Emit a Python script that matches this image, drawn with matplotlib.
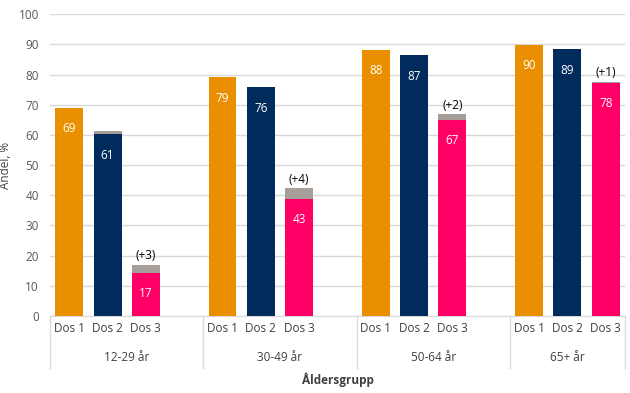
import numpy as np
import matplotlib.pyplot as plt
import matplotlib.transforms as mtransforms

plt.rcParams['font.family'] = ['Open Sans', 'DejaVu Sans']

groups = ['12-29 år', '30-49 år', '50-64 år', '65+ år']
doses = ['Dos 1', 'Dos 2', 'Dos 3']

dos1 = [69, 79.1, 88.1, 89.8]
dos2 = [60.2, 75.7, 86.3, 88.3]
dos2_extra = [1.1, 0, 0, 0]
dos3 = [14.3, 38.7, 64.9, 77.2]
dos3_extra = [2.6, 3.6, 1.9, 0.4]

lab1 = [69, 79, 88, 90]
lab2 = [61, 76, 87, 89]
lab3 = [17, 43, 67, 78]
added3 = ['(+3)', '(+4)', '(+2)', '(+1)']

c_orange = '#EA8F00'
c_navy = '#002B5C'
c_pink = '#FF0066'
c_grey = '#A59E99'

fig = plt.figure(figsize=(6.3, 3.93), dpi=100)
ax = fig.add_axes([0.0794, 0.196, 0.9126, 0.768])

gi = np.arange(len(groups))
w = 0.73
x1 = gi * 4
x2 = gi * 4 + 1
x3 = gi * 4 + 2

ax.bar(x1, dos1, w, color=c_orange, zorder=3)
ax.bar(x2, dos2, w, color=c_navy, zorder=3)
ax.bar(x2, dos2_extra, w, bottom=dos2, color=c_grey, zorder=3)
ax.bar(x3, dos3, w, color=c_pink, zorder=3)
ax.bar(x3, dos3_extra, w, bottom=dos3, color=c_grey, zorder=3)

# value labels inside the bars
for xs, tops, labs in [(x1, dos1, lab1), (x2, dos2, lab2), (x3, dos3, lab3)]:
    for x, t, l in zip(xs, tops, labs):
        ax.annotate(str(l), (x, t), xytext=(0, -15), textcoords='offset points',
                    ha='center', va='center', color='white', fontsize=8.5, zorder=4)

for x, t, e, a in zip(x3, dos3, dos3_extra, added3):
    ax.annotate(a, (x, t + e), xytext=(0, 2), textcoords='offset points',
                ha='center', va='bottom', color='black', fontsize=8.5, zorder=4)

ax.set_xlim(-0.5, 14.5)
ax.set_ylim(0, 100)
ax.set_yticks(np.arange(0, 101, 10))
ax.tick_params(axis='y', length=0, labelsize=8.5, colors='#595959', pad=8)
ax.set_xticks([])
ax.grid(axis='y', color='#D9D9D9', linewidth=1, zorder=0)
for s in ['left', 'right', 'top']:
    ax.spines[s].set_visible(False)
ax.spines['bottom'].set_color('#D9D9D9')

# two-level category axis
trans = mtransforms.blended_transform_factory(ax.transData, ax.transAxes)
for g in gi:
    for i, d in enumerate(doses):
        ax.text(g * 4 + i, -0.043, d, transform=trans, ha='center', va='center',
                fontsize=8.5, color='#404040')
    right = min(g * 4 + 3.5, 14.5)
    ax.text((g * 4 - 0.5 + right) / 2, -0.139, groups[g], transform=trans,
            ha='center', va='center', fontsize=8.5, color='#404040')

for sx in [-0.5, 3.5, 7.5, 11.5, 14.5]:
    ax.plot([sx, sx], [0, -0.172], transform=trans, color='#D9D9D9',
            linewidth=1, clip_on=False)

ax.text(0.5, -0.212, 'Åldersgrupp', transform=ax.transAxes, ha='center', va='center',
        fontsize=8.5, fontweight='bold', color='#404040')
ax.set_ylabel('Andel, %', fontsize=8.5, color='#404040')
ax.yaxis.set_label_coords(-0.066, 0.5)

fig.savefig('out.png', dpi=100)
